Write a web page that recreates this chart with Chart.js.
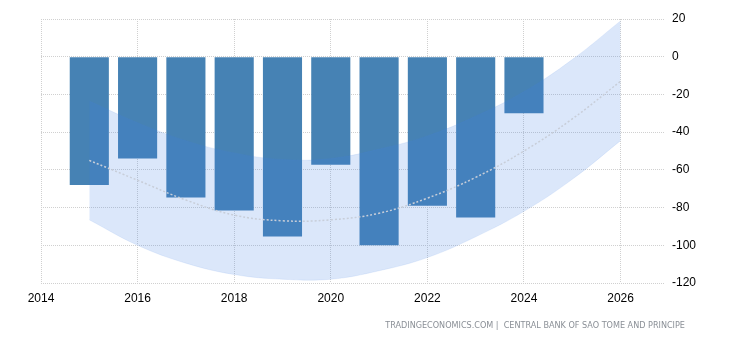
<!DOCTYPE html>
<html><head><meta charset="utf-8">
<script src="https://cdn.jsdelivr.net/npm/chart.js@4/dist/chart.umd.min.js"></script>
<style>
html,body{margin:0;padding:0;background:#fff;}
#wrap{position:relative;width:730px;height:340px;overflow:hidden;}
#src{position:absolute;right:45px;top:319px;font:8.1px "DejaVu Sans",sans-serif;color:#8a8f96;white-space:pre;line-height:12px;}
</style></head><body>
<div id="wrap"><canvas id="c" width="730" height="340"></canvas>
<div id="src">TRADINGECONOMICS.COM |  CENTRAL BANK OF SAO TOME AND PRINCIPE</div></div>
<script>
// Actual values
const years = [2015, 2016, 2017, 2018, 2019, 2020, 2021, 2022, 2023, 2024];
const values = [-68, -54, -74.6, -81.5, -95.3, -57.3, -100, -79, -85.3, -30];
// Forecast band
const fYears = [2015, 2016, 2017, 2018, 2019, 2020, 2021, 2022, 2023, 2024, 2025, 2026];
const fUpper = [-23.5, -35, -44.5, -51, -54.5, -54, -49, -42, -31.5, -18.5, -1.5, 19];
const fMid   = [-55, -65.5, -76, -84, -87, -86.5, -83, -75, -64, -50, -33, -13];
const fLower = [-86.5, -100, -109.5, -115.5, -118, -118, -113.5, -106.5, -95.5, -82, -65, -44.5];
// Ticks
const xTicks = [2014, 2016, 2018, 2020, 2022, 2024, 2026];
const yTicks = [20, 0, -20, -40, -60, -80, -100, -120];

const pts = (xs, ys) => xs.map((x, i) => ({x: x, y: ys[i]}));
const tickFont = {family: '"Liberation Sans", Arial, sans-serif', size: 12};

new Chart(document.getElementById('c'), {
  type: 'bar',
  data: {
    datasets: [
      {type: 'bar', data: pts(years, values), backgroundColor: '#4682b4', barPercentage: 0.81, categoryPercentage: 1, order: 2},
      {type: 'line', data: pts(fYears, fUpper), fill: 2, backgroundColor: 'rgba(65,125,230,0.19)', borderColor: 'rgba(65,125,230,0.1)', borderWidth: 1, pointRadius: 0, tension: 0.4, order: 1},
      {type: 'line', data: pts(fYears, fLower), fill: false, borderColor: 'rgba(65,125,230,0.1)', borderWidth: 1, pointRadius: 0, tension: 0.4, order: 1},
      {type: 'line', data: pts(fYears, fMid), fill: false, borderColor: '#c8ced9', borderWidth: 1.5, borderDash: [2, 2], pointRadius: 0, tension: 0.4, order: 0}
    ]
  },
  options: {
    responsive: false,
    animation: false,
    devicePixelRatio: 1,
    layout: {padding: {left: 41, right: 0, top: 19, bottom: 0}},
    plugins: {legend: {display: false}, tooltip: {enabled: false}},
    scales: {
      x: {
        type: 'linear', min: xTicks[0], max: 2026.92, offset: false,
        afterBuildTicks: s => { s.ticks = xTicks.map(v => ({value: v})); },
        afterFit: s => { s.height = 57; },
        ticks: {color: '#000', font: tickFont, padding: 8, maxRotation: 0, callback: v => String(v)},
        grid: {color: '#d0d0d0', drawTicks: false, lineWidth: 1, offset: false},
        border: {display: false, dash: [1, 1]}
      },
      y: {
        position: 'right', min: -120, max: 20,
        afterBuildTicks: s => { s.ticks = yTicks.map(v => ({value: v})); },
        afterFit: s => { s.width = 65; },
        ticks: {color: '#000', font: tickFont, padding: 7},
        grid: {color: '#d0d0d0', drawTicks: false, lineWidth: 1},
        border: {display: false, dash: [1, 1]}
      }
    }
  }
});
</script>
</body></html>
